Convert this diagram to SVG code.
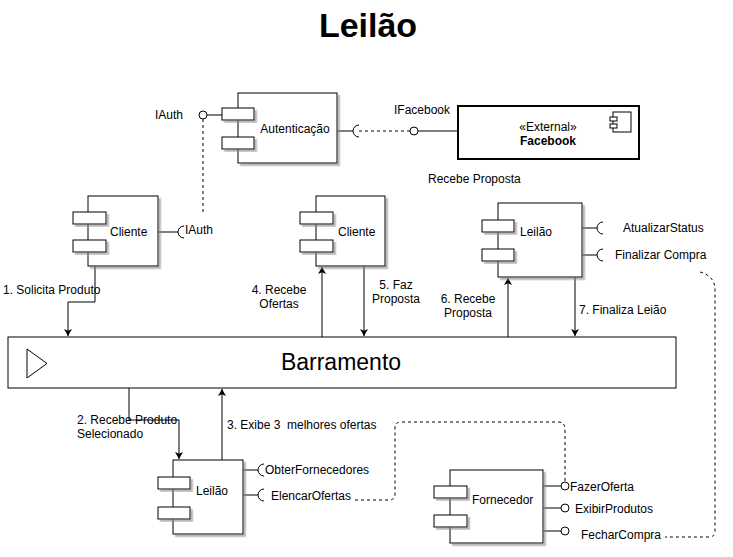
<svg xmlns="http://www.w3.org/2000/svg" width="733" height="557" viewBox="0 0 733 557">
<style>
text{font-family:"Liberation Sans",Arial,sans-serif;font-size:12px;fill:#000}
.box{fill:#fff;stroke:#000;stroke-width:1;filter:url(#sh)}
.port{fill:#fff;stroke:#000;stroke-width:1}
.ln{fill:none;stroke:#000;stroke-width:1}
.dash{fill:none;stroke:#000;stroke-width:1;stroke-dasharray:3 3}
.arr{fill:none;stroke:#000;stroke-width:1;marker-end:url(#ah)}
.mid{text-anchor:middle}
</style>
<defs>
<filter id="sh" x="-10%" y="-10%" width="130%" height="130%">
<feDropShadow dx="2.5" dy="2.5" stdDeviation="0.6" flood-color="#888" flood-opacity="0.6"/>
</filter>
<marker id="ah" markerWidth="8" markerHeight="8" refX="7" refY="4" orient="auto" markerUnits="userSpaceOnUse">
<path d="M0,0 L7,4 L0,8 L1.8,4 Z" fill="#000"/>
</marker>
</defs>
<rect width="733" height="557" fill="#fff"/>
<text x="368" y="37" class="mid" style="font-size:34px;font-weight:bold">Leilão</text>

<g id="connectors">
<line class="ln" x1="207" y1="115" x2="222" y2="115"/>
<circle class="port" cx="203" cy="115" r="4"/>
<line class="dash" x1="203" y1="119" x2="203" y2="213"/>
<line class="ln" x1="337" y1="131" x2="353" y2="131"/>
<path class="ln" d="M359 125 A6 6 0 0 0 359 137"/>
<line class="dash" x1="359" y1="131" x2="410" y2="131"/>
<line class="ln" x1="418" y1="131" x2="468" y2="131"/>
<circle class="port" cx="414" cy="131" r="4"/>
<line class="ln" x1="158" y1="232" x2="178" y2="232"/>
<path class="ln" d="M184 226 A6 6 0 0 0 184 238"/>
<line class="ln" x1="582" y1="228" x2="597" y2="228"/>
<path class="ln" d="M603 222 A6 6 0 0 0 603 234"/>
<line class="ln" x1="582" y1="255" x2="597" y2="255"/>
<path class="ln" d="M603 249 A6 6 0 0 0 603 261"/>
<line class="ln" x1="243" y1="470" x2="258" y2="470"/>
<path class="ln" d="M264 464 A6 6 0 0 0 264 476"/>
<line class="ln" x1="243" y1="495" x2="258" y2="495"/>
<path class="ln" d="M264 489 A6 6 0 0 0 264 501"/>
<line class="ln" x1="542" y1="486" x2="561" y2="486"/>
<circle class="port" cx="565" cy="486" r="4"/>
<line class="ln" x1="543" y1="508" x2="561" y2="508"/>
<circle class="port" cx="565" cy="508" r="4"/>
<line class="ln" x1="543" y1="531" x2="561" y2="531"/>
<circle class="port" cx="565" cy="531" r="4"/>
<path class="dash" d="M355 500 H389 Q395 500 395 494 V428 Q395 422 401 422 H558 Q565 422 565 429 V482"/>
<path class="dash" d="M700 272 Q715 276 715 290 V531 Q715 537 709 537 H665"/>
<path class="arr" d="M95 266 V302 H68 V336"/>
<path class="arr" d="M322 337 V267"/>
<path class="arr" d="M364 266 V336"/>
<path class="arr" d="M508 337 V278"/>
<path class="arr" d="M575 277 V336"/>
<path class="arr" d="M129 388 V420 H179 V459"/>
<path class="arr" d="M222 460 V389"/>
</g>

<g id="barramento">
<rect x="8" y="337" width="668" height="51" fill="#fff" stroke="#000"/>
<path d="M27 349 L47 363.5 L27 378 Z" fill="#fff" stroke="#000"/>
<text x="341" y="370" class="mid" style="font-size:23px">Barramento</text>
</g>

<g id="autenticacao">
<rect class="box" x="238" y="93" width="99" height="70"/>
<rect class="box" x="222" y="108" width="32" height="12"/>
<rect class="box" x="222" y="137" width="32" height="12"/>
<text x="295" y="133" class="mid">Autenticação</text>
<text x="155" y="119">IAuth</text>
</g>

<g id="facebook">
<rect x="458" y="106" width="181" height="53" fill="#fff" stroke="#000" stroke-width="2"/>
<rect x="613" y="112" width="18" height="20" fill="#fff" stroke="#000"/>
<rect x="610" y="117" width="7" height="4" fill="#fff" stroke="#000"/>
<rect x="610" y="124" width="7" height="4" fill="#fff" stroke="#000"/>
<text x="548" y="131" class="mid">«External»</text>
<text x="548" y="145" class="mid" style="font-weight:bold">Facebook</text>
<text x="394" y="114">IFacebook</text>
<text x="428" y="183">Recebe Proposta</text>
</g>

<g id="cliente1">
<rect class="box" x="88" y="196" width="70" height="70"/>
<rect class="box" x="73" y="212" width="33" height="12"/>
<rect class="box" x="73" y="240" width="33" height="12"/>
<text x="110" y="236">Cliente</text>
<text x="185" y="234">IAuth</text>
</g>

<g id="cliente2">
<rect class="box" x="316" y="196" width="69" height="70"/>
<rect class="box" x="300" y="212" width="33" height="12"/>
<rect class="box" x="300" y="240" width="33" height="12"/>
<text x="338" y="236">Cliente</text>
</g>

<g id="leilao-top">
<rect class="box" x="498" y="203" width="84" height="74"/>
<rect class="box" x="482" y="220" width="32" height="12"/>
<rect class="box" x="482" y="249" width="32" height="12"/>
<text x="520" y="236">Leilão</text>
<text x="623" y="232">AtualizarStatus</text>
<text x="615" y="259">Finalizar Compra</text>
</g>

<g id="leilao-bottom">
<rect class="box" x="173" y="460" width="70" height="74"/>
<rect class="box" x="158" y="477" width="32" height="12"/>
<rect class="box" x="158" y="507" width="32" height="12"/>
<text x="196" y="495">Leilão</text>
<text x="265" y="474">ObterFornecedores</text>
<text x="271" y="500">ElencarOfertas</text>
</g>

<g id="fornecedor">
<rect class="box" x="450" y="470" width="93" height="73"/>
<rect class="box" x="434" y="486" width="33" height="12"/>
<rect class="box" x="434" y="515" width="33" height="12"/>
<text x="472" y="504">Fornecedor</text>
<text x="570" y="491">FazerOferta</text>
<text x="575" y="513">ExibirProdutos</text>
<text x="581" y="539">FecharCompra</text>
</g>

<g id="labels">
<text x="3" y="294">1. Solicita Produto</text>
<text x="279" y="294" class="mid">4. Recebe</text>
<text x="279" y="308" class="mid">Ofertas</text>
<text x="396" y="289" class="mid">5. Faz</text>
<text x="396" y="303" class="mid">Proposta</text>
<text x="468" y="303" class="mid">6. Recebe</text>
<text x="468" y="317" class="mid">Proposta</text>
<text x="579" y="314">7. Finaliza Leião</text>
<text x="77" y="424">2. Recebe Produto</text>
<text x="77" y="438">Selecionado</text>
<text x="227" y="429" xml:space="preserve">3. Exibe 3  melhores ofertas</text>
</g>
</svg>
